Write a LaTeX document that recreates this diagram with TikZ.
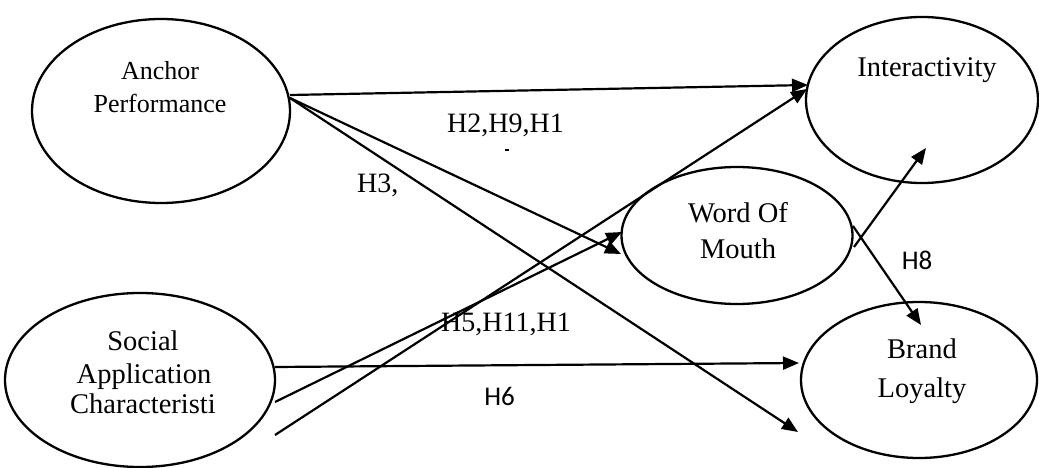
\documentclass[tikz,border=0pt]{standalone}
\usepackage{fontspec}
\setmainfont{Liberation Serif}
\newfontfamily\labelsans{Carlito}
\usetikzlibrary{arrows.meta,shapes.geometric}

\tikzset{
  construct/.style={ellipse, draw, line width=2.3pt, inner sep=0pt, outer sep=0pt},
  big/.style={font=\fontsize{28.5}{34}\selectfont, inner sep=0pt, anchor=base},
  small/.style={font=\fontsize{26}{31}\selectfont, inner sep=0pt, anchor=base},
  hyp/.style={font=\fontsize{28}{33}\selectfont, inner sep=0pt, anchor=base},
  hypsans/.style={font=\labelsans\fontsize{27}{32}\selectfont, inner sep=0pt, anchor=base},
  path/.style={line width=2.2pt, -{Triangle[length=16pt,width=13pt]}},
}

\begin{document}
\begin{tikzpicture}[x=1pt, y=-1pt]
  \path[fill=white, use as bounding box] (0,0) rectangle (1039,468);

  % constructs
  \node[construct, minimum width=258pt, minimum height=184pt] (ap)  at (161,111) {};
  \node[construct, minimum width=270pt, minimum height=174pt] (sac) at (140,380) {};
  \node[construct, minimum width=232pt, minimum height=166pt] (int) at (922,100) {};
  \node[construct, minimum width=231pt, minimum height=137pt] (wom) at (737,235.5) {};
  \node[construct, minimum width=236pt, minimum height=156pt] (bl)  at (919,380) {};

  % construct names
  \node[small] (apA) at (160,80)  {Anchor};
  \node[small] (apB) at (160,113) {Performance};
  \node[big] (sacA) at (143,350) {Social};
  \node[big] (sacB) at (144,383) {Application};
  \node[big] (sacC) at (143,413) {Characteristi};
  \node[big] (intA) at (927,77)  {Interactivity};
  \node[big] (womA) at (738,222) {Word Of};
  \node[big] (womB) at (738,258) {Mouth};
  \node[big] (blA)  at (922,358) {Brand};
  \node[big] (blB)  at (922,397) {Loyalty};

  % connector ends
  \coordinate (apOut1) at (290,95);
  \coordinate (apOut2) at (290,98);
  \coordinate (sacOut1) at (275,367);
  \coordinate (sacOut2) at (275,402);
  \coordinate (sacOut3) at (275,435);
  \coordinate (womOut1) at (853,226);
  \coordinate (womOut2) at (854,247);
  \coordinate (intIn1) at (808,85);
  \coordinate (intIn2) at (807,89);
  \coordinate (intIn3) at (926,148);
  \coordinate (womIn1) at (622,232);
  \coordinate (womIn2) at (621,254);
  \coordinate (blIn1) at (799,363);
  \coordinate (blIn2) at (798,432);
  \coordinate (blIn3) at (921,325);

  % paths
  \draw[path] (apOut1) -- (intIn1);
  \draw[path] (apOut2) -- (womIn2);
  \draw[path] (apOut2) -- (blIn2);
  \draw[path] (sacOut1) -- (blIn1);
  \draw[path] (sacOut2) -- (womIn1);
  \draw[path] (sacOut3) -- (intIn2);
  \draw[path] (womOut2) -- (intIn3);
  \draw[path] (womOut1) -- (blIn3);

  % hypothesis labels
  \node[hyp] (h2) at (505.5,133) {H2,H9,H1};
  \draw[line width=1.5pt] (505,150) -- (509,150);
  \node[hyp, anchor=base west] (h3) at (357,193) {H3,};
  \node[hyp, anchor=base west] (h5) at (441,331) {H5,H11,H1};
  \node[hypsans] (h6) at (499.5,405) {H6};
  \node[hypsans] (h8) at (917,269) {H8};
\end{tikzpicture}
\end{document}
